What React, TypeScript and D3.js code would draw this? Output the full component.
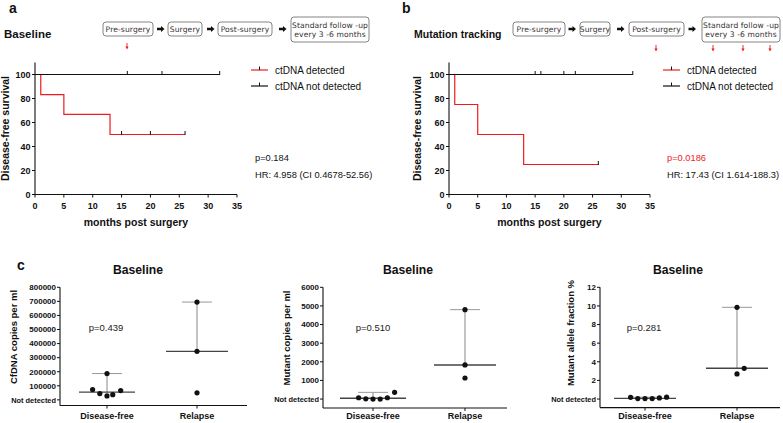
import React from 'react';
import * as d3 from 'd3';

const FONT = 'Liberation Sans, Arial, Helvetica, sans-serif';
const RED = '#ee1c1c';

// ---------- Kaplan-Meier data ----------
const kmMonthTicks = [0, 5, 10, 15, 20, 25, 30, 35];
const kmSurvTicks = [0, 20, 40, 60, 80, 100];
const legendLabels = ['ctDNA detected', 'ctDNA not detected'];

const kmA_detTime = [0, 1, 5, 13, 26];
const kmA_detSurv = [100, 83.3, 66.7, 50, 50];
const kmA_detCensor = [15, 20, 26];
const kmA_ndTime = [0, 32];
const kmA_ndSurv = [100, 100];
const kmA_ndCensor = [16, 22, 32];
const kmA_p = 'p=0.184';
const kmA_hr = 'HR: 4.958 (CI 0.4678-52.56)';

const kmB_detTime = [0, 1, 5, 13, 26];
const kmB_detSurv = [100, 75, 50, 25, 25];
const kmB_detCensor = [26];
const kmB_ndTime = [0, 32];
const kmB_ndSurv = [100, 100];
const kmB_ndCensor = [15, 16, 20, 22, 32];
const kmB_p = 'p=0.0186';
const kmB_hr = 'HR: 17.43 (CI 1.614-188.3)';

// ---------- flow chart ----------
const flowSteps = ['Pre-surgery', 'Surgery', 'Post-surgery'];
const flowFollow = ['Standard follow -up', 'every 3 -6 months'];

// ---------- dot plots ----------
const groups = ['Disease-free', 'Relapse'];

const cfdnaDF = [73000, 45000, 28000, 37000, 66000, 187000];
const cfdnaRel = [695000, 345000, 50000];
const cfdnaMedian = [55000, 345000];
const cfdnaUpper = [187000, 695000];
const cfdnaTicks = [0, 100000, 200000, 300000, 400000, 500000, 600000, 700000, 800000];

const mutDF = [70, 10, 0, 0, 70, 360];
const mutRel = [4800, 1830, 1130];
const mutMedian = [40, 1830];
const mutUpper = [360, 4800];
const mutTicks = [0, 1000, 2000, 3000, 4000, 5000, 6000];

const mafDF = [0.18, 0.05, 0.05, 0.05, 0.12, 0.2];
const mafRel = [9.85, 3.3, 2.7];
const mafMedian = [0.07, 3.3];
const mafUpper = [0.2, 9.85];
const mafTicks = [0, 2, 4, 6, 8, 10, 12];

const jitterDF1 = [-2, -1, 0, 0.8, 1.9, 0];
const jitterDF2 = [-2, -1, 0, 1, 2, 3];
const jitterRel1 = [0, 0, 0];
const jitterRel3 = [0, 1, 0];

function stepAt(times: number[], surv: number[], t: number) {
  let v = surv[0];
  for (let i = 0; i < times.length; i++) if (times[i] <= t) v = surv[i];
  return v;
}

function BlackArrow({ x, y }: { x: number; y: number }) {
  return (
    <path
      d={`M${x},${y - 1.2} L${x + 4},${y - 1.2} L${x + 4},${y - 3} L${x + 7.5},${y} L${x + 4},${y + 3} L${x + 4},${y + 1.2} L${x},${y + 1.2} Z`}
      fill="#111"
    />
  );
}

function RedArrow({ x, y }: { x: number; y: number }) {
  return (
    <g>
      <line x1={x} x2={x} y1={y} y2={y + 5} stroke={RED} strokeWidth={0.9} />
      <path d={`M${x - 1.6},${y + 3.6} L${x + 1.6},${y + 3.6} L${x},${y + 6.5} Z`} fill={RED} />
    </g>
  );
}

function Box({ x0, x1, y0, y1, lines }: { x0: number; x1: number; y0: number; y1: number; lines: string[] }) {
  const cx = (x0 + x1) / 2;
  const cy = (y0 + y1) / 2;
  const lh = 9;
  return (
    <g>
      <rect x={x0} y={y0} width={x1 - x0} height={y1 - y0} rx={3} fill="white" stroke="#666" strokeWidth={0.8} />
      {lines.map((l, i) => (
        <text key={i} x={cx} y={cy + (i - (lines.length - 1) / 2) * lh + 2.8} textAnchor="middle" fontSize={7.6} fill="#333" fontFamily="DejaVu Sans, sans-serif" letterSpacing={0.1}>
          {l}
        </text>
      ))}
    </g>
  );
}

type Curve = { time: number[]; surv: number[]; censor: number[]; color: string };

function KMPanel({ xr, curves, legendX, statX, pText, pColor, hrText, yLabelX }: { xr: [number, number]; curves: Curve[]; legendX: number; statX: number; pText: string; pColor: string; hrText: string; yLabelX: number }) {
  const x = d3.scaleLinear().domain([0, 35]).range(xr);
  const y = d3.scaleLinear().domain([0, 110]).range([194.5, 62.5]);
  const line = d3
    .line<[number, number]>()
    .x((d) => x(d[0]))
    .y((d) => y(d[1]))
    .curve(d3.curveStepAfter);
  return (
    <g fontFamily={FONT}>
      {/* axes */}
      <line x1={x(0)} x2={x(0)} y1={y(110)} y2={y(0)} stroke="#111" strokeWidth={1.1} />
      <line x1={x(0)} x2={x(35)} y1={y(0)} y2={y(0)} stroke="#111" strokeWidth={1.1} />
      {kmSurvTicks.map((t) => (
        <g key={t}>
          <line x1={x(0) - 3} x2={x(0)} y1={y(t)} y2={y(t)} stroke="#111" strokeWidth={1} />
          <text x={x(0) - 4.5} y={y(t) + 3.2} textAnchor="end" fontSize={9} fontWeight="bold" fill="#111">
            {t}
          </text>
        </g>
      ))}
      {kmMonthTicks.map((t) => (
        <g key={t}>
          <line x1={x(t)} x2={x(t)} y1={y(0)} y2={y(0) + 3} stroke="#111" strokeWidth={1} />
          <text x={x(t)} y={y(0) + 14.5} textAnchor="middle" fontSize={9} fontWeight="bold" fill="#111">
            {t}
          </text>
        </g>
      ))}
      <text x={(x(0) + x(35)) / 2} y={225.5} textAnchor="middle" fontSize={10.5} fontWeight="bold" fill="#111">
        months post surgery
      </text>
      <text transform={`translate(${yLabelX},128.5) rotate(-90)`} textAnchor="middle" fontSize={10.5} fontWeight="bold" fill="#111">
        Disease-free survival
      </text>
      {/* curves */}
      {curves.map((c, i) => {
        const pts: [number, number][] = c.time.map((t, j) => [t, c.surv[j]]);
        return (
          <g key={i}>
            <path d={line(pts) || ''} fill="none" stroke={c.color} strokeWidth={1.2} />
            {c.censor.map((t, k) => (
              <line key={k} x1={x(t)} x2={x(t)} y1={y(stepAt(c.time, c.surv, t)) - 3.5} y2={y(stepAt(c.time, c.surv, t)) + 0.5} stroke="#111" strokeWidth={1} />
            ))}
          </g>
        );
      })}
      {/* legend */}
      {curves.map((c, i) => (
        <g key={'lg' + i}>
          <line x1={legendX} x2={legendX + 17} y1={70 + i * 16} y2={70 + i * 16} stroke={c.color} strokeWidth={1.2} />
          <line x1={legendX + 8.5} x2={legendX + 8.5} y1={70 + i * 16 - 3.5} y2={70 + i * 16} stroke="#111" strokeWidth={1} />
          <text x={legendX + 24} y={70 + i * 16 + 3.6} fontSize={10} fill="#111">
            {legendLabels[i]}
          </text>
        </g>
      ))}
      <text x={statX} y={161} fontSize={9.3} fill={pColor}>
        {pText}
      </text>
      <text x={statX} y={177.5} fontSize={9.3} fill="#111">
        {hrText}
      </text>
    </g>
  );
}

type DotProps = {
  left: number;
  right: number;
  top: number;
  bottom: number;
  domain: [number, number];
  ticks: number[];
  cx: [number, number];
  df: number[];
  rel: number[];
  median: number[];
  upper: number[];
  jDF: number[];
  jRel: number[];
  yLabel: string;
  yLabelX: number;
  yLabelY: number;
  titleX: number;
  pText: string;
  pX: number;
  medHalf: number[];
};

function DotPanel(p: DotProps) {
  const y = d3.scaleLinear().domain(p.domain).range([p.bottom, p.top]);
  const x = d3.scalePoint<string>().domain(groups).range(p.cx);
  const step = 7.2;
  const sets = [p.df, p.rel];
  const jit = [p.jDF, p.jRel];
  return (
    <g fontFamily={FONT}>
      <text x={p.titleX} y={273.5} textAnchor="middle" fontSize={12.2} fontWeight="bold" fill="#111">
        Baseline
      </text>
      <line x1={p.left} x2={p.left} y1={p.top} y2={p.bottom} stroke="#111" strokeWidth={1.1} />
      <line x1={p.left} x2={p.right} y1={p.bottom} y2={p.bottom} stroke="#111" strokeWidth={1.1} />
      {p.ticks.map((t) => (
        <g key={t}>
          <line x1={p.left - 3} x2={p.left} y1={y(t)} y2={y(t)} stroke="#111" strokeWidth={1} />
          <text x={p.left - 4} y={y(t) + 2.8} textAnchor="end" fontSize={t === 0 ? 7.4 : 8} fontWeight="bold" fill="#111">
            {t === 0 ? 'Not detected' : String(t)}
          </text>
        </g>
      ))}
      {groups.map((g) => (
        <g key={g}>
          <line x1={x(g)!} x2={x(g)!} y1={p.bottom} y2={p.bottom + 3} stroke="#111" strokeWidth={1} />
          <text x={x(g)!} y={419} textAnchor="middle" fontSize={9} fontWeight="bold" fill="#111">
            {g}
          </text>
        </g>
      ))}
      <text transform={`translate(${p.yLabelX},${p.yLabelY}) rotate(-90)`} textAnchor="middle" fontSize={9.5} fontWeight="bold" fill="#111">
        {p.yLabel}
      </text>
      <text x={p.pX} y={330.5} textAnchor="middle" fontSize={9.5} fill="#222">
        {p.pText}
      </text>
      {groups.map((g, gi) => (
        <g key={'m' + g}>
          <line x1={x(g)!} x2={x(g)!} y1={y(p.upper[gi])} y2={y(p.median[gi])} stroke="#888" strokeWidth={1} />
          <line x1={x(g)! - 15} x2={x(g)! + 15} y1={y(p.upper[gi])} y2={y(p.upper[gi])} stroke="#999" strokeWidth={1} />
          <line x1={x(g)! - p.medHalf[gi]} x2={x(g)! + p.medHalf[gi]} y1={y(p.median[gi])} y2={y(p.median[gi])} stroke="#444" strokeWidth={1.4} />
          {sets[gi].map((v, k) => (
            <circle key={k} cx={x(g)! + jit[gi][k] * step} cy={y(v)} r={2.6} fill="#111" />
          ))}
        </g>
      ))}
    </g>
  );
}

export default function App() {
  const flowA = { boxes: [[103, 153], [168, 202], [218, 272]], follow: [291, 369], arrows: [157, 207, 279] };
  const flowB = { boxes: [[513, 565], [580, 610], [629, 684]], follow: [702, 780], arrows: [568.5, 617, 688.5] };
  return (
    <svg width={783} height={423} style={{ position: 'absolute', left: 0, top: 0, background: 'white' }}>
      <rect width={783} height={423} fill="white" />
      <g fontFamily={FONT}>
        <text x={9} y={13} fontSize={14} fontWeight="bold" fill="#111">a</text>
        <text x={4} y={38} fontSize={11.5} fontWeight="bold" fill="#111">Baseline</text>
        <text x={402} y={13} fontSize={14} fontWeight="bold" fill="#111">b</text>
        <text x={414} y={38} fontSize={10.5} fontWeight="bold" fill="#111">Mutation tracking</text>
        <text x={17} y={270} fontSize={14} fontWeight="bold" fill="#111">c</text>
      </g>
      {[flowA, flowB].map((f, fi) => (
        <g key={fi}>
          {f.boxes.map((b, i) => (
            <Box key={i} x0={b[0]} x1={b[1]} y0={22} y1={36} lines={[flowSteps[i]]} />
          ))}
          <Box x0={f.follow[0]} x1={f.follow[1]} y0={17} y1={42} lines={flowFollow} />
          {f.arrows.map((a, i) => (
            <BlackArrow key={i} x={a} y={29} />
          ))}
        </g>
      ))}
      <RedArrow x={127} y={43} />
      {[656, 713, 743, 770].map((xx) => (
        <RedArrow key={xx} x={xx} y={45} />
      ))}
      <KMPanel
        xr={[35, 237]}
        curves={[
          { time: kmA_detTime, surv: kmA_detSurv, censor: kmA_detCensor, color: RED },
          { time: kmA_ndTime, surv: kmA_ndSurv, censor: kmA_ndCensor, color: '#111' },
        ]}
        legendX={251}
        statX={255}
        pText={kmA_p}
        pColor="#111"
        hrText={kmA_hr}
        yLabelX={9}
      />
      <KMPanel
        xr={[449, 650]}
        curves={[
          { time: kmB_detTime, surv: kmB_detSurv, censor: kmB_detCensor, color: RED },
          { time: kmB_ndTime, surv: kmB_ndSurv, censor: kmB_ndCensor, color: '#111' },
        ]}
        legendX={663}
        statX={667}
        pText={kmB_p}
        pColor={RED}
        hrText={kmB_hr}
        yLabelX={421}
      />
      <DotPanel
        left={60} right={247} top={287.3} bottom={405.5} domain={[-40000, 800000]} ticks={cfdnaTicks}
        cx={[107, 197]} df={cfdnaDF} rel={cfdnaRel} median={cfdnaMedian} upper={cfdnaUpper}
        jDF={jitterDF1} jRel={jitterRel1} yLabel="CfDNA copies per ml" yLabelX={17} yLabelY={337}
        titleX={138} pText="p=0.439" pX={106} medHalf={[28, 31]}
      />
      <DotPanel
        left={323} right={507} top={287.3} bottom={408} domain={[-480, 6000]} ticks={mutTicks}
        cx={[373, 465]} df={mutDF} rel={mutRel} median={mutMedian} upper={mutUpper}
        jDF={jitterDF2} jRel={jitterRel1} yLabel="Mutant copies per ml" yLabelX={290} yLabelY={338}
        titleX={408} pText="p=0.510" pX={373} medHalf={[33, 31]}
      />
      <DotPanel
        left={600} right={780} top={287.3} bottom={407.6} domain={[-0.92, 12]} ticks={mafTicks}
        cx={[645, 737]} df={mafDF} rel={mafRel} median={mafMedian} upper={mafUpper}
        jDF={jitterDF2} jRel={jitterRel3} yLabel="Mutant allele fraction %" yLabelX={574} yLabelY={333}
        titleX={678} pText="p=0.281" pX={644} medHalf={[31, 31]}
      />
    </svg>
  );
}
